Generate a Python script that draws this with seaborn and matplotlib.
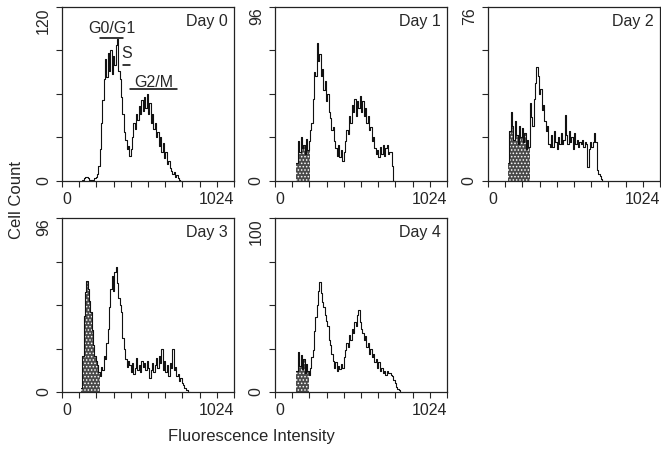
import numpy as np
import pandas as pd
import matplotlib
matplotlib.use('Agg')
import matplotlib.pyplot as plt
import seaborn as sns

# flow cytometry DNA histograms, 8-channel bins
days = ['Day 0', 'Day 1', 'Day 2', 'Day 3', 'Day 4']
y_max = [120, 96, 76, 96, 100]
bin_width = 8
first_channel = [120, 128, 120, 112, 128]
subg1_end = [None, 208, 248, 224, 200]  # sub-G1 (apoptotic) gate, shaded

counts_day0 = [1, 2, 3, 3, 2, 1, 1, 1, 1, 2, 3, 5, 10, 22, 40, 56, 70, 84, 72, 88,
               76, 90, 74, 86, 80, 94, 98, 76, 70, 58, 46, 34, 28, 22, 24, 17, 22, 30, 40, 36,
               46, 42, 52, 46, 56, 48, 58, 50, 60, 46, 54, 40, 46, 36, 40, 30, 34, 24, 30, 20,
               26, 16, 20, 12, 14, 9, 7, 5, 6, 3, 4, 2, 1, 0]
counts_day1 = [10, 22, 16, 24, 18, 20, 15, 23, 17, 22, 28, 32, 45, 60, 58, 76, 66, 70, 58, 62,
               50, 55, 44, 48, 38, 35, 28, 30, 22, 18, 14, 20, 13, 17, 11, 16, 22, 28, 26, 36,
               32, 42, 38, 45, 36, 44, 40, 47, 38, 44, 36, 40, 32, 36, 28, 30, 22, 24, 18, 15,
               17, 13, 19, 15, 20, 14, 18, 20, 15, 16, 16, 8, 0]
counts_day2 = [8, 22, 30, 24, 18, 26, 20, 16, 24, 19, 23, 17, 21, 14, 18, 15, 34, 28, 24, 36,
               43, 50, 46, 38, 40, 31, 33, 26, 22, 24, 16, 15, 20, 15, 22, 17, 14, 19, 16, 21,
               16, 18, 29, 20, 16, 22, 17, 19, 14, 21, 16, 18, 15, 17, 16, 18, 15, 17, 16, 6,
               14, 17, 15, 17, 21, 17, 5, 3, 2, 1, 0]
counts_day3 = [2, 20, 42, 55, 61, 57, 50, 44, 34, 26, 20, 17, 15, 11, 9, 14, 12, 20, 18, 27,
               35, 47, 57, 64, 56, 66, 69, 60, 52, 48, 44, 30, 24, 18, 14, 17, 15, 11, 16, 10,
               13, 19, 12, 15, 11, 17, 14, 16, 12, 17, 13, 8, 12, 16, 11, 15, 19, 13, 20, 16,
               24, 12, 17, 11, 15, 9, 16, 13, 24, 12, 14, 9, 10, 6, 8, 5, 4, 2, 1, 1, 0]
counts_day4 = [12, 23, 15, 21, 13, 19, 11, 16, 12, 10, 14, 20, 24, 35, 43, 50, 58, 63, 57, 52,
               49, 44, 41, 38, 30, 27, 22, 18, 14, 17, 12, 15, 13, 16, 14, 20, 24, 28, 26, 33,
               30, 36, 34, 40, 38, 44, 47, 40, 36, 34, 30, 32, 26, 28, 22, 25, 20, 22, 17, 19,
               14, 17, 12, 14, 11, 12, 10, 12, 11, 11, 10, 9, 7, 5, 3, 2, 1, 0]
all_counts = [counts_day0, counts_day1, counts_day2, counts_day3, counts_day4]

# cell-cycle phase gates marked on day 0
phases = ['G0/G1', 'S', 'G2/M']
phase_start = [228, 365, 407]
phase_end = [365, 407, 683]

sns.set_style('ticks')
plt.rcParams['font.family'] = ['Liberation Sans', 'DejaVu Sans']
plt.rcParams['hatch.color'] = 'white'
plt.rcParams['hatch.linewidth'] = 0.7


def draw_panel(ax, day, counts, start, gate, top):
    edges = start + bin_width * np.arange(len(counts) + 1)
    df = pd.DataFrame({'channel': edges[:-1] + bin_width / 2, 'count': counts})
    if gate is not None:
        sub = df[df['channel'] < gate]
        sns.histplot(data=sub, x='channel', weights='count', bins=edges[edges <= gate].tolist(),
                     element='step', fill=True, facecolor='#4a4a4a', edgecolor='none',
                     linewidth=0, ax=ax)
        ax.collections[-1].set_hatch('.....')
        ax.collections[-1].set_alpha(1)
    sns.histplot(data=df, x='channel', weights='count', bins=edges.tolist(), element='step',
                 fill=False, color='#111111', linewidth=0.8, ax=ax)
    ax.set_xlim(0, 1024)
    ax.set_ylim(0, top)
    ax.set_xticks(np.linspace(0, 1024, 11))
    ax.set_xticklabels(['0'] + [''] * 9 + ['1024'], fontsize=11.5)
    xl = ax.get_xticklabels()
    xl[0].set_ha('left')
    xl[-1].set_ha('right')
    ax.set_yticks(np.linspace(0, top, 5))
    ax.set_yticklabels(['0', '', '', '', str(top)], fontsize=11.5, rotation=90, va='center')
    ax.get_yticklabels()[-1].set_va('top')
    ax.tick_params(direction='out', length=4, width=0.8, pad=4)
    for s in ax.spines.values():
        s.set_visible(True)
        s.set_linewidth(0.9)
        s.set_color('#222222')
    ax.set_xlabel('')
    ax.set_ylabel('')
    ax.text(0.965, 0.915, day, transform=ax.transAxes, ha='right', va='center', fontsize=11.5)


fig, axes = plt.subplots(2, 3, figsize=(6.61, 4.49), dpi=100)
fig.subplots_adjust(left=62 / 661, right=660 / 661, top=1 - 7 / 449, bottom=57 / 449,
                    wspace=0.238, hspace=0.213)
axes = axes.flatten()
axes[5].remove()

for i in range(5):
    draw_panel(axes[i], days[i], all_counts[i], first_channel[i], subg1_end[i], y_max[i])

ax0 = axes[0]
label_y = [105, 88, 68]
line_y = [98.5, 80, 63.5]
for name, a, b, ty, ly in zip(phases, phase_start, phase_end, label_y, line_y):
    ax0.text((a + b) / 2, ty, name, ha='center', va='center', fontsize=11.5)
    ax0.plot([a, b], [ly, ly], color='black', lw=1.1)

fig.text(17 / 661, 1 - 200 / 449, 'Cell Count', rotation=90, ha='center', va='center', fontsize=12)
fig.text(251 / 661, 1 - 437 / 449, 'Fluorescence Intensity', ha='center', va='center', fontsize=12)

fig.savefig('out.png', dpi=100)
